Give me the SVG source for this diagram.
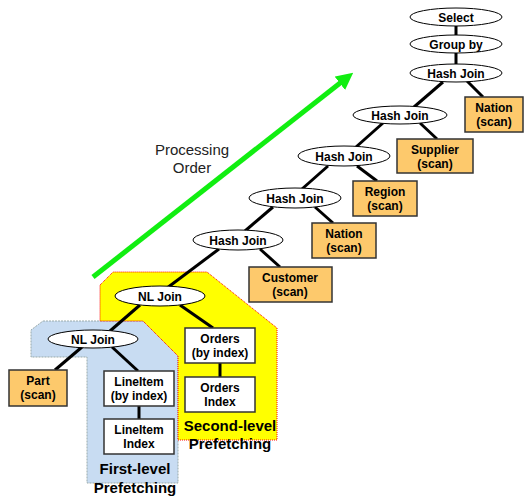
<svg xmlns="http://www.w3.org/2000/svg" width="525" height="498" viewBox="0 0 525 498">
<style>
text{font-family:"Liberation Sans",Arial,sans-serif;text-anchor:middle;fill:#000}
.n{font-size:12px;font-weight:bold}
.lab{font-size:15px;font-weight:bold}
.po{font-size:15px;fill:#222}
.op{fill:#fff;stroke:#000;stroke-width:1}
.scan{fill:#fdc96c;stroke:#333;stroke-width:1.5}
.idx{fill:#fff;stroke:#333;stroke-width:1.5}
.edge{stroke:#000;stroke-width:3;fill:none}
</style>
<defs>
<marker id="ah" viewBox="0 0 10 10" markerWidth="17" markerHeight="17" markerUnits="userSpaceOnUse" refX="5" refY="5" orient="auto">
<path d="M0,0 L10,5 L0,10 z" fill="#11ee11"/>
</marker>
</defs>
<g id="regions">
<polygon id="first-level" points="43,321 143,321 178,356 178,483 87,483 87,357 31,357 31,330" fill="#c8dcf2" stroke="#9aa" stroke-width="1" stroke-dasharray="2,1"/>
<polygon id="second-level" points="100,285 113,272 207,272 277,328 277,440 178,440 178,356 143,321 100,321" fill="#ffff00" stroke="#f00" stroke-width="1" stroke-dasharray="1,1"/>
</g>
<g id="arrow">
<line x1="93" y1="277" x2="346.5" y2="78" stroke="#11ee11" stroke-width="5" marker-end="url(#ah)"/>
<text class="po" x="192" y="155">Processing</text>
<text class="po" x="192" y="173">Order</text>
</g>
<g id="connectors" class="edge">
<line class="edge" x1="456" y1="26" x2="456" y2="35"/>
<line class="edge" x1="456" y1="53" x2="456" y2="64"/>
<line class="edge" x1="443" y1="82" x2="414" y2="107"/>
<line class="edge" x1="467" y1="81" x2="483" y2="97"/>
<line class="edge" x1="383" y1="123" x2="356" y2="147"/>
<line class="edge" x1="420" y1="123" x2="437" y2="139"/>
<line class="edge" x1="328" y1="166" x2="302" y2="189"/>
<line class="edge" x1="357" y1="166" x2="377" y2="181"/>
<line class="edge" x1="273" y1="207" x2="245" y2="231"/>
<line class="edge" x1="315" y1="207" x2="333" y2="223"/>
<line class="edge" x1="219" y1="249" x2="167" y2="288"/>
<line class="edge" x1="260" y1="249" x2="280" y2="267"/>
<line class="edge" x1="140" y1="305" x2="110" y2="331"/>
<line class="edge" x1="180" y1="305" x2="213" y2="328"/>
<line class="edge" x1="82" y1="347" x2="55" y2="370"/>
<line class="edge" x1="112" y1="347" x2="138" y2="371"/>
<line class="edge" x1="139" y1="406" x2="139" y2="419"/>
<line class="edge" x1="220" y1="363" x2="220" y2="377"/>
</g>
<g id="select"><ellipse class="op" cx="456" cy="17" rx="46" ry="9"/><text class="n" x="456" y="21.5">Select</text></g>
<g id="groupby"><ellipse class="op" cx="456" cy="44" rx="46" ry="9"/><text class="n" x="456" y="48.5">Group by</text></g>
<g id="hj1"><ellipse class="op" cx="456" cy="73" rx="46" ry="9"/><text class="n" x="456" y="77.5">Hash Join</text></g>
<g id="nation1"><rect class="scan" x="465" y="97" width="58" height="35"/><text class="n" x="494" y="112">Nation</text><text class="n" x="494" y="126">(scan)</text></g>
<g id="hj2"><ellipse class="op" cx="400" cy="115" rx="47" ry="9"/><text class="n" x="400" y="119.5">Hash Join</text></g>
<g id="supplier"><rect class="scan" x="397" y="139" width="76" height="34"/><text class="n" x="435" y="154">Supplier</text><text class="n" x="435" y="168">(scan)</text></g>
<g id="hj3"><ellipse class="op" cx="344" cy="156" rx="46" ry="10"/><text class="n" x="344" y="160.5">Hash Join</text></g>
<g id="region"><rect class="scan" x="353" y="181" width="64" height="35"/><text class="n" x="385" y="196">Region</text><text class="n" x="385" y="210">(scan)</text></g>
<g id="hj4"><ellipse class="op" cx="295" cy="198" rx="46" ry="10"/><text class="n" x="295" y="202.5">Hash Join</text></g>
<g id="nation2"><rect class="scan" x="312" y="223" width="64" height="35"/><text class="n" x="344" y="238">Nation</text><text class="n" x="344" y="252">(scan)</text></g>
<g id="hj5"><ellipse class="op" cx="238" cy="240" rx="45" ry="10"/><text class="n" x="238" y="244.5">Hash Join</text></g>
<g id="customer"><rect class="scan" x="249" y="267" width="83" height="35"/><text class="n" x="290" y="282">Customer</text><text class="n" x="290" y="296">(scan)</text></g>
<g id="nl1"><ellipse class="op" cx="160" cy="296" rx="45" ry="10"/><text class="n" x="160" y="300.5">NL Join</text></g>
<g id="orders"><rect class="idx" x="185" y="328" width="70" height="35"/><text class="n" x="220" y="343">Orders</text><text class="n" x="220" y="357">(by index)</text></g>
<g id="ordersidx"><rect class="idx" x="185" y="377" width="70" height="35"/><text class="n" x="220" y="392">Orders</text><text class="n" x="220" y="406">Index</text></g>
<g id="nl2"><ellipse class="op" cx="93" cy="339" rx="45" ry="9"/><text class="n" x="93" y="343.5">NL Join</text></g>
<g id="part"><rect class="scan" x="9" y="370" width="58" height="36"/><text class="n" x="38" y="385">Part</text><text class="n" x="38" y="399">(scan)</text></g>
<g id="lineitem"><rect class="idx" x="104" y="371" width="70" height="35"/><text class="n" x="139" y="386">LineItem</text><text class="n" x="139" y="400">(by index)</text></g>
<g id="lineitemidx"><rect class="idx" x="104" y="419" width="70" height="35"/><text class="n" x="139" y="434">LineItem</text><text class="n" x="139" y="448">Index</text></g>
<g id="labels">
<text class="lab" x="135" y="474">First-level</text>
<text class="lab" x="135" y="493">Prefetching</text>
<text class="lab" x="230" y="431">Second-level</text>
<text class="lab" x="230" y="449">Prefetching</text>
</g>
</svg>
